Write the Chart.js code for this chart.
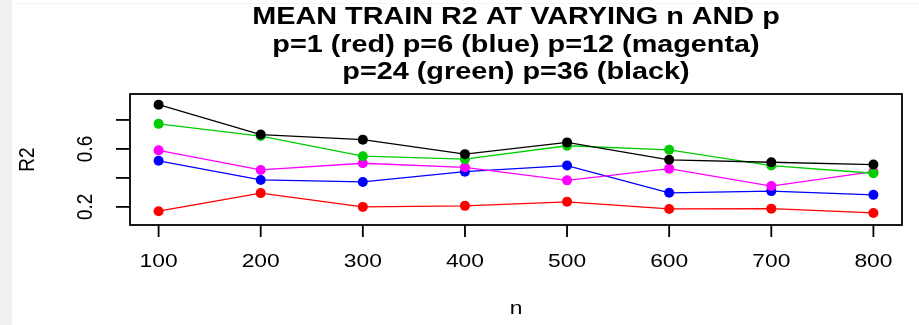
<!DOCTYPE html>
<html>
<head>
<meta charset="utf-8">
<script src="https://cdn.jsdelivr.net/npm/chart.js@4/dist/chart.umd.min.js"></script>
<style>
  html, body { margin: 0; padding: 0; background: #ffffff; }
  #wrap { position: relative; width: 919px; height: 325px; }
  canvas { display: block; }
</style>
</head>
<body>
<div id="wrap"><canvas id="chart" width="919" height="325"></canvas></div>
<script>
// Sample sizes on the x axis
const nValues = [100, 200, 300, 400, 500, 600, 700, 800];

// Mean training R2 for each number of predictors p
const r2P1  = [0.170, 0.295, 0.200, 0.207, 0.235, 0.186, 0.188, 0.158];
const r2P6  = [0.518, 0.386, 0.372, 0.443, 0.485, 0.297, 0.309, 0.283];
const r2P12 = [0.590, 0.455, 0.501, 0.473, 0.383, 0.464, 0.344, 0.443];
const r2P24 = [0.773, 0.689, 0.550, 0.529, 0.622, 0.594, 0.485, 0.432];
const r2P36 = [0.905, 0.699, 0.664, 0.564, 0.645, 0.525, 0.508, 0.492];

// Axis ticks and which of them carry a label
const xTicks = [100, 200, 300, 400, 500, 600, 700, 800];
const yTicks = [0.2, 0.4, 0.6, 0.8];
const yTickLabels = ['0.2', '', '0.6', ''];

const titleLines = [
  'MEAN TRAIN R2 AT VARYING n AND p',
  'p=1 (red) p=6 (blue) p=12 (magenta)',
  'p=24 (green) p=36 (black)'
];

const FONT = '"Liberation Sans", Arial, Helvetica, sans-serif';
const STRETCH = 1.2; // wide glyphs

function toPoints(values) {
  return nValues.map((n, i) => ({ x: n, y: values[i] }));
}

function series(values, color, order) {
  return {
    data: toPoints(values),
    borderColor: color,
    backgroundColor: color,
    pointBackgroundColor: color,
    pointBorderWidth: 0,
    pointRadius: 5,
    pointHoverRadius: 5,
    borderWidth: 1.3,
    tension: 0,
    order: order
  };
}

function wideText(ctx, text, x, y, rotate) {
  ctx.save();
  ctx.translate(x, y);
  if (rotate) ctx.rotate(-Math.PI / 2);
  if (rotate) ctx.scale(1, STRETCH); else ctx.scale(STRETCH, 1);
  ctx.fillText(text, 0, 0);
  ctx.restore();
}

// Background strip, plot frame, ticks, labels and titles
const frame = {
  id: 'frame',
  beforeDraw(chart) {
    const ctx = chart.ctx;
    ctx.save();
    ctx.fillStyle = '#ffffff';
    ctx.fillRect(0, 0, chart.width, chart.height);
    ctx.fillStyle = '#f1f1f1';
    ctx.fillRect(0, 0, 12, chart.height);
    ctx.fillStyle = '#f5f5f5';
    ctx.fillRect(12, 3, chart.width - 12, 1);
    ctx.restore();
  },
  afterDraw(chart) {
    const ctx = chart.ctx;
    const a = chart.chartArea;
    const xs = chart.scales.x;
    const ys = chart.scales.y;
    ctx.save();
    ctx.strokeStyle = '#000000';
    ctx.fillStyle = '#000000';
    ctx.lineWidth = 1.8;
    ctx.strokeRect(a.left, a.top, a.right - a.left, a.bottom - a.top);

    // x ticks
    ctx.font = '19px ' + FONT;
    ctx.textAlign = 'center';
    ctx.textBaseline = 'middle';
    xTicks.forEach(v => {
      const px = xs.getPixelForValue(v);
      ctx.beginPath();
      ctx.moveTo(px, a.bottom);
      ctx.lineTo(px, a.bottom + 12);
      ctx.stroke();
      wideText(ctx, String(v), px, a.bottom + 37, false);
    });

    // y ticks
    yTicks.forEach((v, i) => {
      const py = ys.getPixelForValue(v);
      ctx.beginPath();
      ctx.moveTo(a.left, py);
      ctx.lineTo(a.left - 14, py);
      ctx.stroke();
      if (yTickLabels[i]) wideText(ctx, yTickLabels[i], a.left - 44, py, true);
    });

    // axis titles
    wideText(ctx, 'n', (a.left + a.right) / 2, 309, false);
    wideText(ctx, 'R2', 28, (a.top + a.bottom) / 2, true);

    // main title
    ctx.font = 'bold 24px ' + FONT;
    const cx = (a.left + a.right) / 2;
    [17, 45, 72].forEach((y, i) => wideText(ctx, titleLines[i], cx, y, false));
    ctx.restore();
  }
};

new Chart(document.getElementById('chart'), {
  type: 'line',
  data: {
    datasets: [
      series(r2P1,  '#ff0000', 5),
      series(r2P6,  '#0000ff', 4),
      series(r2P12, '#ff00ff', 3),
      series(r2P24, '#00cd00', 2),
      series(r2P36, '#000000', 1)
    ]
  },
  options: {
    responsive: false,
    animation: false,
    layout: { padding: { left: 130, right: 17, top: 94, bottom: 100 } },
    scales: {
      x: { type: 'linear', min: 72, max: 828, display: false },
      y: { type: 'linear', min: 0.075, max: 0.979, display: false }
    },
    plugins: {
      legend: { display: false },
      title: { display: false },
      tooltip: { enabled: false }
    }
  },
  plugins: [frame]
});
</script>
</body>
</html>
